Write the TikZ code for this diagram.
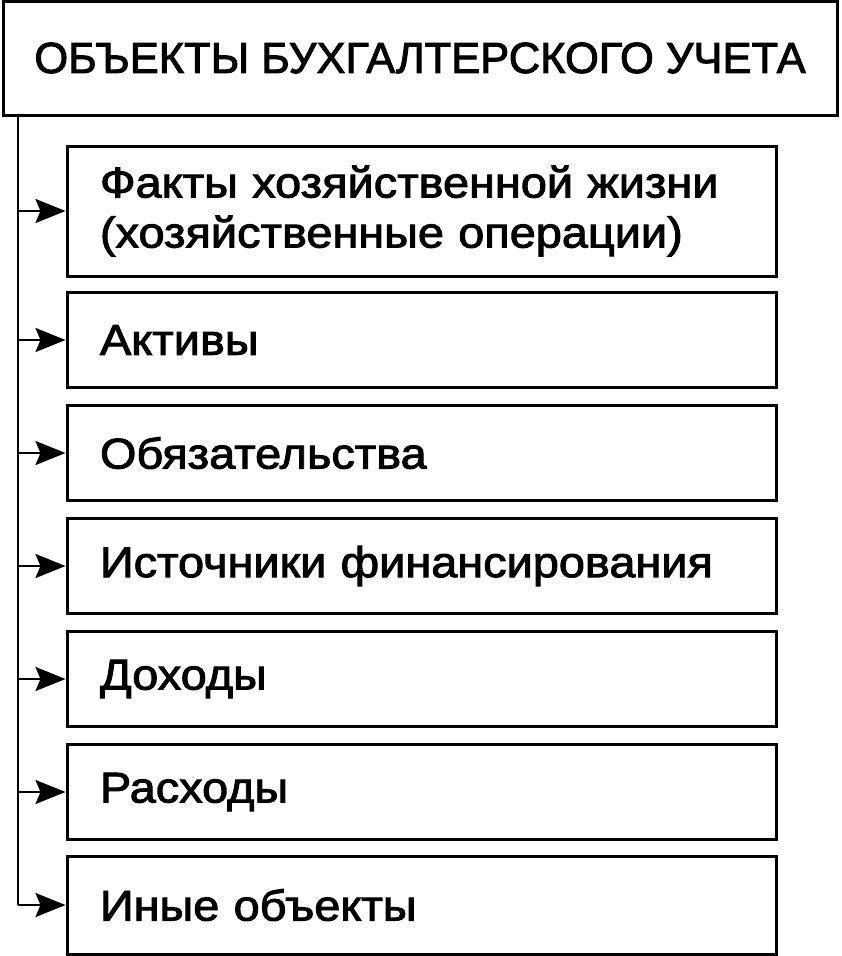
\documentclass[tikz,border=0pt]{standalone}
\usepackage{fontspec}
\setmainfont{Liberation Sans}
\newfontfamily\itemfont[FakeStretch=1.09, FakeBold=2.2]{Liberation Sans}
\newfontfamily\titlefont[FakeBold=2.2]{Liberation Sans}
\usetikzlibrary{arrows.meta}
\begin{document}
\begin{tikzpicture}[x=1pt, y=-1pt, line width=3pt,
  title box/.style={draw, rectangle, minimum width=834pt, minimum height=114pt, inner sep=0pt, font=\titlefont\fontsize{43.5}{50}\selectfont},
  item box/.style={draw, rectangle, minimum height=95pt, text width=643pt, inner xsep=33pt, inner ysep=0pt, align=left, font=\itemfont\fontsize{43}{50}\selectfont},
  branch/.style={line width=2.6pt, -{Stealth[length=30pt, width=24pt, inset=5pt]}}]
\useasboundingbox (0,0) rectangle (842,956);

\node [title box](title) at (420,58) {ОБЪЕКТЫ БУХГАЛТЕРСКОГО УЧЕТА};

\node [item box, minimum height=130pt](o1) at (421.5,211) {Факты хозяйственной жизни\\(хозяйственные операции)};
\node [item box](o2) at (421.5,340) {Активы};
\node [item box](o3) at (421.5,453) {Обязательства};
\node [item box](o4) at (421.5,566) {Источники финансирования};
\node [item box](o5) at (421.5,679) {Доходы};
\node [item box](o6) at (421.5,792) {Расходы};
\node [item box, minimum height=98pt](o7) at (421.5,905) {Иные объекты};

\coordinate (t0) at (18,115);
\coordinate (t1) at (18,211);
\coordinate (t2) at (18,340);
\coordinate (t3) at (18,453);
\coordinate (t4) at (18,566);
\coordinate (t5) at (18,679);
\coordinate (t6) at (18,792);
\coordinate (t7) at (18,905);

\draw [line width=2.6pt] (t0) -- (t7);
\draw [branch] (t1) -- (o1.west);
\draw [branch] (t2) -- (o2.west);
\draw [branch] (t3) -- (o3.west);
\draw [branch] (t4) -- (o4.west);
\draw [branch] (t5) -- (o5.west);
\draw [branch] (t6) -- (o6.west);
\draw [branch] (t7) -- (o7.west);
\end{tikzpicture}
\end{document}
